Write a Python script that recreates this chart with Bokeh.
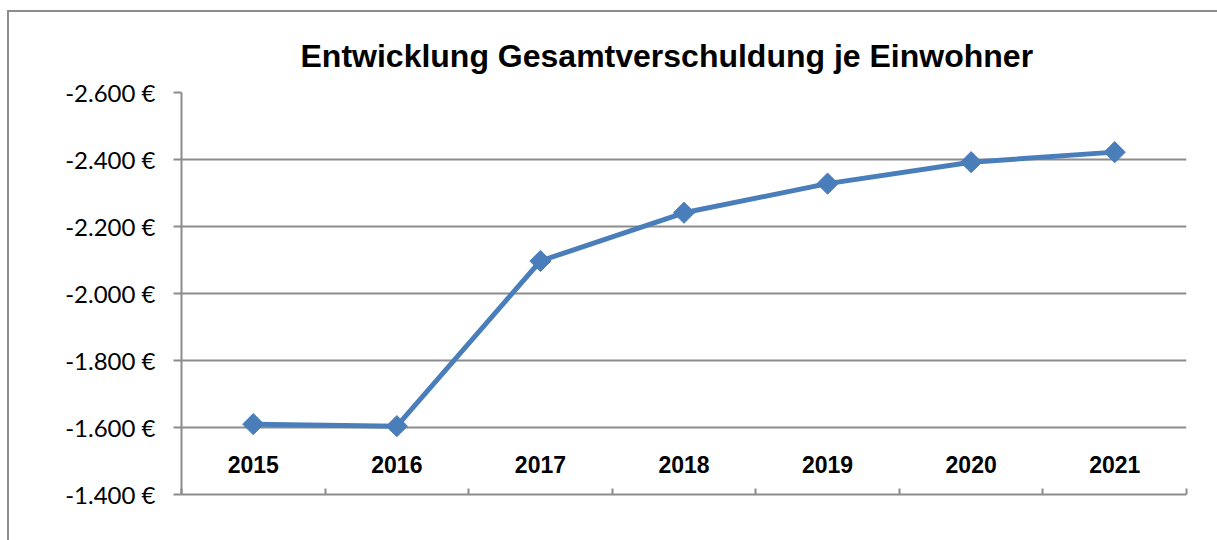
from bokeh.plotting import figure
from bokeh.models import Range1d, FixedTicker, ColumnDataSource
from bokeh.core.properties import value
from bokeh.embed import file_html
from bokeh.resources import INLINE
import numpy as np

years = ["2015", "2016", "2017", "2018", "2019", "2020", "2021"]
debt = [-1610, -1604, -2097, -2241, -2328, -2392, -2422]
y_ticks = [-1400, -1600, -1800, -2000, -2200, -2400, -2600]
y_tick_labels = ["-1.400 €", "-1.600 €", "-1.800 €", "-2.000 €", "-2.200 €", "-2.400 €", "-2.600 €"]
title_text = "Entwicklung Gesamtverschuldung je Einwohner"

GRID = "#8c8c8c"
BLUE = "#4a7ebb"

n = len(years)
xpos = np.arange(n) + 0.5  # category centres

p = figure(width=1210, height=530, output_backend="svg", toolbar_location=None,
           x_range=Range1d(0, n),
           y_range=Range1d(-1400, -2600),
           min_border_left=172, min_border_right=33, min_border_top=80, min_border_bottom=48)
p.margin = (10, 0, 0, 7)
p.styles = {"border-left": "2px solid #8c8c8c", "border-top": "2px solid #8c8c8c"}
p.outline_line_color = None
p.background_fill_color = "white"

p.title.text = title_text
p.title.text_font = "Liberation Sans"
p.title.text_font_style = "bold"
p.title.text_font_size = "32px"
p.title.text_color = "black"
p.title.align = "left"
p.title.offset = 119
p.title.standoff = 38

# y axis
p.yaxis.ticker = FixedTicker(ticks=y_ticks)
p.yaxis.major_label_overrides = {t: l for t, l in zip(y_ticks, y_tick_labels)}
p.yaxis.axis_line_color = GRID
p.yaxis.axis_line_width = 2
p.yaxis.major_tick_line_color = GRID
p.yaxis.major_tick_line_width = 2
p.yaxis.major_tick_in = 0
p.yaxis.major_tick_out = 8
p.yaxis.minor_tick_line_color = None
p.yaxis.major_label_text_font = "Lato"
p.yaxis.major_label_text_font_size = "24px"
p.yaxis.major_label_text_color = "black"
p.yaxis.major_label_standoff = 18
p.ygrid.grid_line_color = GRID
p.ygrid.grid_line_width = 2
p.xgrid.grid_line_color = None

# x axis: boundary ticks only, labels drawn inside the plot
p.xaxis.ticker = FixedTicker(ticks=list(range(n + 1)))
p.xaxis.major_label_text_font_size = "0px"
p.xaxis.major_label_text_color = None
p.xaxis.axis_line_color = GRID
p.xaxis.axis_line_width = 2
p.xaxis.major_tick_line_color = GRID
p.xaxis.major_tick_line_width = 2
p.xaxis.major_tick_in = 6
p.xaxis.major_tick_out = 0
p.xaxis.minor_tick_line_color = None

src = ColumnDataSource(dict(x=xpos, year=years, debt=debt, base=[y_ticks[0]] * n))
p.line("x", "debt", source=src, line_color=BLUE, line_width=5)
p.scatter("x", "debt", source=src, marker="square", angle=np.pi / 4, size=15,
          fill_color=BLUE, line_color=BLUE)

p.text("x", "base", text="year", source=src, text_font=value("Liberation Sans"),
       text_font_style="bold", text_font_size="23px", text_align="center",
       text_baseline="middle", y_offset=-30, text_color="black")

open("out.html", "w").write(file_html(p, INLINE))
